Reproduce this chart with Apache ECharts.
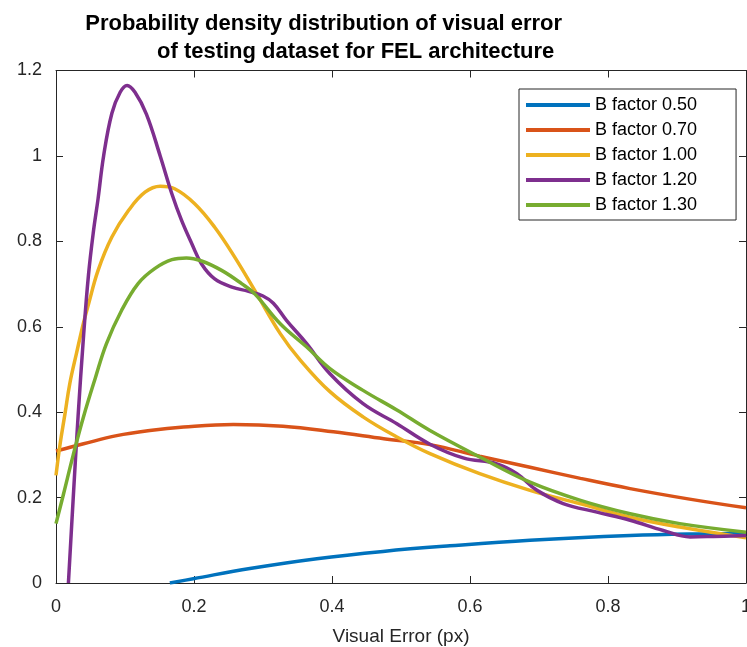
<!DOCTYPE html>
<html>
<head>
<meta charset="utf-8">
<script src="https://cdn.jsdelivr.net/npm/echarts@6/dist/echarts.min.js"></script>
<style>
  html, body { margin: 0; padding: 0; background: #fff; }
  #chart { width: 747px; height: 647px; }
</style>
</head>
<body>
<div id="chart"></div>
<script>
const seriesNames = ['B factor 0.50', 'B factor 0.70', 'B factor 1.00', 'B factor 1.20', 'B factor 1.30'];
const seriesColors = ['#0072BD', '#D95319', '#EDB120', '#7E2F8E', '#77AC30'];
const xTicks = [0, 0.2, 0.4, 0.6, 0.8, 1];
const yTicks = [0, 0.2, 0.4, 0.6, 0.8, 1, 1.2];

// [visual error, density]
const bFactor050 = [[0.165, 0], [0.199, 0.010], [0.281, 0.034], [0.378, 0.057], [0.474, 0.074], [0.571, 0.087],
  [0.687, 0.100], [0.832, 0.111], [0.93, 0.115], [1.0, 0.116]];
const bFactor070 = [[0, 0.309], [0.04, 0.326], [0.088, 0.345], [0.136, 0.357], [0.185, 0.365], [0.257, 0.371],
  [0.329, 0.367], [0.402, 0.354], [0.475, 0.338], [0.542, 0.324], [0.614, 0.297], [0.687, 0.271], [0.760, 0.245],
  [0.832, 0.221], [0.916, 0.197], [1.0, 0.176]];
const bFactor100 = [[0, 0.252], [0.006, 0.326], [0.013, 0.396], [0.020, 0.467], [0.030, 0.54], [0.040, 0.61],
  [0.047, 0.652], [0.061, 0.732], [0.081, 0.81], [0.105, 0.872], [0.129, 0.915], [0.151, 0.929], [0.172, 0.923],
  [0.201, 0.888], [0.230, 0.833], [0.259, 0.763], [0.288, 0.685], [0.325, 0.584], [0.354, 0.522], [0.397, 0.448],
  [0.445, 0.389], [0.494, 0.342], [0.542, 0.303], [0.614, 0.256], [0.687, 0.217], [0.759, 0.186], [0.832, 0.154],
  [0.904, 0.131], [1.0, 0.106]];
const bFactor120 = [[0.018, 0], [0.025, 0.2], [0.032, 0.39], [0.040, 0.58], [0.047, 0.72], [0.054, 0.82],
  [0.061, 0.90], [0.069, 1.0], [0.081, 1.10], [0.093, 1.149], [0.103, 1.165], [0.1145, 1.149], [0.131, 1.098],
  [0.151, 1.00], [0.168, 0.911], [0.182, 0.849], [0.197, 0.794], [0.211, 0.747], [0.230, 0.712], [0.255, 0.693],
  [0.279, 0.683], [0.300, 0.672], [0.315, 0.655], [0.334, 0.615], [0.363, 0.561], [0.397, 0.49], [0.445, 0.42],
  [0.494, 0.373], [0.542, 0.325], [0.590, 0.293], [0.639, 0.279], [0.668, 0.256], [0.697, 0.217], [0.735, 0.186],
  [0.784, 0.166], [0.832, 0.147], [0.880, 0.123], [0.919, 0.108], [0.953, 0.109], [1.0, 0.111]];
const bFactor130 = [[0, 0.139], [0.011, 0.209], [0.025, 0.30], [0.040, 0.39], [0.057, 0.48], [0.073, 0.56],
  [0.095, 0.638], [0.119, 0.701], [0.143, 0.736], [0.168, 0.757], [0.189, 0.761], [0.211, 0.754], [0.240, 0.732],
  [0.269, 0.701], [0.288, 0.677], [0.325, 0.607], [0.363, 0.553], [0.397, 0.502], [0.445, 0.451], [0.494, 0.405],
  [0.542, 0.357], [0.614, 0.295], [0.687, 0.236], [0.759, 0.194], [0.832, 0.162], [0.904, 0.139], [1.0, 0.119]];

const allData = [bFactor050, bFactor070, bFactor100, bFactor120, bFactor130];

const axisColor = '#262626';
const font = 'Liberation Sans, Arial, sans-serif';

const chart = echarts.init(document.getElementById('chart'), null, { renderer: 'canvas' });

const boxAxis = (extra) => Object.assign({
  type: 'value', min: 0, interval: 0.2,
  axisLine: { show: true, onZero: false, lineStyle: { color: axisColor, width: 1 } },
  axisTick: { show: true, inside: true, length: 7, lineStyle: { color: axisColor } },
  splitLine: { show: false }
}, extra);

chart.setOption({
  animation: false,
  backgroundColor: '#fff',
  title: [
    { text: 'Probability density distribution of visual error', right: 180, top: 8,
      textStyle: { fontFamily: font, fontSize: 22, fontWeight: 'bold', color: '#000' } },
    { text: 'of testing dataset for FEL architecture', left: 152, top: 36,
      textStyle: { fontFamily: font, fontSize: 22, fontWeight: 'bold', color: '#000' } }
  ],
  grid: { left: 56, right: 1, top: 70.5, bottom: 64, containLabel: false, outerBoundsMode: 'none' },
  legend: {
    orient: 'vertical', left: 519, top: 89,
    data: seriesNames,
    icon: 'rect',
    itemWidth: 64, itemHeight: 4, itemGap: 5,
    padding: [6, 39, 5, 7],
    borderColor: axisColor, borderWidth: 1, backgroundColor: '#fff',
    textStyle: { fontFamily: font, fontSize: 18, color: '#000', lineHeight: 20 }
  },
  xAxis: [
    boxAxis({
      position: 'bottom', max: 1,
      name: 'Visual Error (px)', nameLocation: 'middle', nameGap: 44,
      nameTextStyle: { fontFamily: font, fontSize: 19, color: axisColor },
      axisLabel: { fontFamily: font, fontSize: 18, color: axisColor, margin: 15,
        formatter: (v) => xTicks.includes(+v.toFixed(2)) ? String(+v.toFixed(2)) : '' }
    }),
    boxAxis({ position: 'top', max: 1, axisLabel: { show: false } })
  ],
  yAxis: [
    boxAxis({
      position: 'left', max: 1.2,
      axisLabel: { fontFamily: font, fontSize: 18, color: axisColor, margin: 14,
        formatter: (v) => yTicks.includes(+v.toFixed(2)) ? String(+v.toFixed(2)) : '' }
    }),
    boxAxis({ position: 'right', max: 1.2, axisLabel: { show: false } })
  ],
  series: allData.map((d, i) => ({
    name: seriesNames[i],
    type: 'line',
    xAxisIndex: 0, yAxisIndex: 0,
    data: d,
    smooth: 0.4,
    symbol: 'none',
    clip: true,
    lineStyle: { color: seriesColors[i], width: 3.5 },
    itemStyle: { color: seriesColors[i] }
  }))
});
</script>
</body>
</html>
